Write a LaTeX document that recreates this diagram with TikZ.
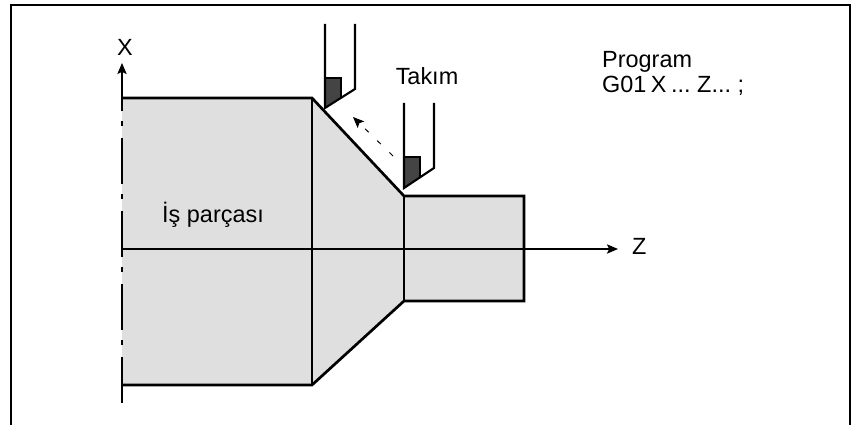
\documentclass[tikz,border=0pt]{standalone}
\usepackage{fontspec}
\setmainfont{Liberation Sans}
\usepackage{xcolor}
\usetikzlibrary{arrows.meta,positioning,calc}
\definecolor{piece}{HTML}{DFDFDF}
\definecolor{insert}{HTML}{444444}
\tikzstyle{contour}=[line width=2.3pt, line join=miter]
\tikzstyle{axis}=[line width=0.9pt, -{Stealth[length=9.5pt,width=8pt,inset=2pt]}]
\tikzstyle{tool}=[line width=1.8pt]
\tikzstyle{label}=[font=\fontsize{20}{24}\selectfont, inner sep=0pt]

\begin{document}
\begin{tikzpicture}[x=0.03cm, y=-0.03cm]
\useasboundingbox (0,0) rectangle (858,425);

% frame
\draw[line width=1.6pt] (11,425) -- (11,5) -- (850,5) -- (850,425);

% piece
\fill[piece] (122,98) -- (312,98) -- (404,196) -- (524,196) -- (524,301) -- (404,301) -- (312,385) -- (122,385) -- cycle;

% axis
\draw[axis] (122,249) -- (618,249);
\draw[axis] (122,98) -- (122,63);
\draw[line width=1pt, dash pattern=on 39.3pt off 10.2pt on 4.3pt off 8.5pt] (122,403) -- (122,98);

\draw[contour] (122,98) -- (312,98) -- (404,196) -- (524,196) -- (524,301) -- (404,301) -- (312,385) -- (122,385);
\draw[contour] (312,98) -- (312,385);
\draw[contour] (404,196) -- (404,301);

% tool
\fill[insert] (325,78) -- (341,78) -- (341,98) -- (325,108) -- cycle;
\draw[tool] (325,24) -- (325,108) -- (355,89) -- (355,24);
\draw[tool] (325,78) -- (341,78) -- (341,98);

\fill[insert] (404,157) -- (420,157) -- (420,177) -- (404,188) -- cycle;
\draw[tool] (404,103) -- (404,188) -- (434,168) -- (434,103);
\draw[tool] (404,157) -- (420,157) -- (420,177);

\draw[line width=0.8pt, dash pattern=on 4.3pt off 10.2pt, -{Stealth[length=9.5pt,width=8pt,inset=2pt]}] (393,156) -- (353,117);

% text
\node[label, anchor=base] (lblx) at (125,56) {X};
\node[label, anchor=base west] (lblz) at (632,255) {Z};
\node[label, anchor=base] (lbltool) at (427,85) {Takım};
\node[label, anchor=base west] (lblpiece) at (162,223) {İş parçası};
\node[label, anchor=base west] (lblprog) at (602,68) {Program};
\node[label, anchor=base west] (lblcode) at (602,93) {\spaceskip=3.8pt G01 X ... Z... ;};

\end{tikzpicture}
\end{document}
